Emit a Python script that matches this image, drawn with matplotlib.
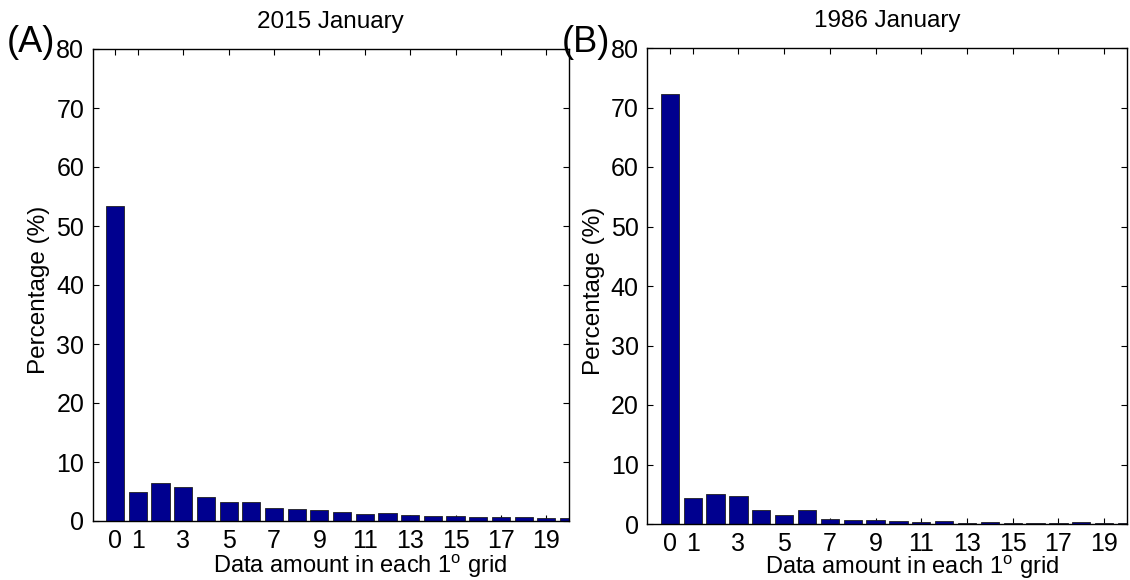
import matplotlib
matplotlib.use("Agg")
import matplotlib.pyplot as plt
import numpy as np

plt.rcParams['font.family'] = ['Liberation Sans', 'DejaVu Sans']
plt.rcParams['mathtext.fontset'] = 'custom'
plt.rcParams['mathtext.rm'] = 'Liberation Sans'
plt.rcParams['mathtext.it'] = 'Liberation Sans'

# Data amount bins (0..20)
bins = list(range(21))
xtick_vals = [0, 1, 3, 5, 7, 9, 11, 13, 15, 17, 19]
yticks = [0, 10, 20, 30, 40, 50, 60, 70, 80]

pct_2015 = [53.4, 5.0, 6.4, 5.7, 4.0, 3.3, 3.3, 2.15, 2.0, 1.8, 1.5,
            1.13, 1.3, 1.0, 0.8, 0.85, 0.75, 0.7, 0.65, 0.5, 0.45]
pct_1986 = [72.2, 4.37, 5.04, 4.7, 2.3, 1.46, 2.4, 0.78, 0.67, 0.62, 0.45,
            0.34, 0.56, 0.22, 0.28, 0.22, 0.11, 0.11, 0.28, 0.11, 0.1]

titles = ["2015 January", "1986 January"]
panel_labels = ["(A)", "(B)"]
xlabel = "Data amount in each 1$^{\\mathrm{o}}$ grid"
ylabel = "Percentage (%)"

W, H = 1130, 580
fig = plt.figure(figsize=(W / 100, H / 100), dpi=100)

# axes boxes in pixels: left, right, top, bottom
boxes = [(92.5, 569, 49, 521), (647, 1127, 48, 524)]
xlabel_xy = [(0.561, -0.068), (0.552, -0.063)]
ylabel_x = [-0.089, -0.087]
panel_xy = [(7, 42), (562, 42)]

for i, (vals, box) in enumerate(zip([pct_2015, pct_1986], boxes)):
    l, r, t, b = box
    ax = fig.add_axes([l / W, (H - b) / H, (r - l) / W, (b - t) / H])
    ax.bar(bins, vals, width=0.8, color='#00008F', edgecolor='#202020',
           linewidth=0.6, zorder=2)
    ax.set_xlim(-1, 20)
    ax.set_ylim(0, 80)
    ax.set_xticks(xtick_vals)
    ax.set_xticklabels([str(v) for v in xtick_vals])
    ax.set_yticks(yticks)
    ax.tick_params(direction='in', length=4, width=0.8, labelsize=18,
                   top=True, right=True, pad=6)
    for s in ax.spines.values():
        s.set_linewidth(1.0)
    ax.set_title(titles[i], fontsize=17.5, pad=15)
    ax.set_ylabel(ylabel, fontsize=17.5)
    ax.yaxis.set_label_coords(ylabel_x[i], 0.49)
    ax.set_xlabel(xlabel, fontsize=17)
    ax.xaxis.set_label_coords(*xlabel_xy[i])
    ax.xaxis.label.set_va('top')
    px, py = panel_xy[i]
    fig.text(px / W, 1 - py / H, panel_labels[i], fontsize=26,
             ha='left', va='center')

fig.savefig("out.png", dpi=100)
